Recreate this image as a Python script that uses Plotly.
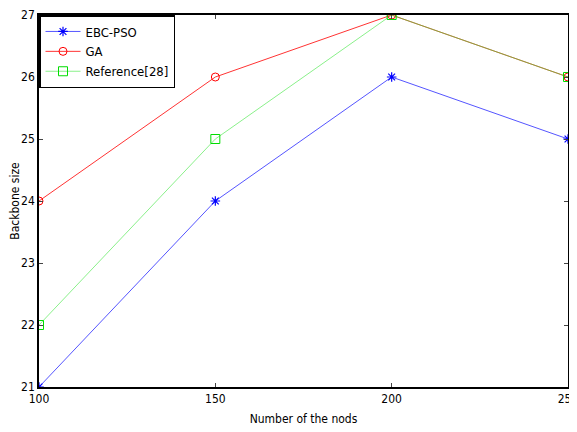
import plotly.graph_objects as go

nodes = [100, 150, 200, 250]
ebc_pso = [21, 24, 26, 25]
ga = [24, 26, 27, 26]
reference28 = [22, 25, 27, 26]
x_ticks = [100, 150, 200, 250]
y_ticks = [21, 22, 23, 24, 25, 26, 27]

FONT = "DejaVu Sans Condensed, Liberation Sans Narrow, Arial Narrow, Liberation Sans, Arial"

fig = go.Figure()
fig.add_trace(go.Scatter(x=nodes, y=ebc_pso, name="EBC-PSO", mode="lines+markers",
                         line=dict(color="#5555ff", width=1),
                         marker=dict(symbol="asterisk-open", size=8, color="#0000ff", line=dict(width=1.2, color="#0000ff"))))
fig.add_trace(go.Scatter(x=nodes, y=ga, name="GA", mode="lines+markers",
                         line=dict(color="#ff3333", width=1),
                         marker=dict(symbol="circle-open", size=8, color="#ff0000", line=dict(width=1))))
fig.add_trace(go.Scatter(x=nodes, y=reference28, name="Reference[28]", mode="lines+markers",
                         line=dict(color="rgba(60,230,60,0.6)", width=1),
                         marker=dict(symbol="square-open", size=9, color="#00dd00", line=dict(width=1))))

# page body has an 8px default margin, so the figure is sized to fit the 577x432 window
fig.update_layout(
    width=569, height=424,
    margin=dict(l=31, r=9, t=7, b=45, autoexpand=False),
    paper_bgcolor="white", plot_bgcolor="white",
    font=dict(family=FONT, size=12, color="black"),
    showlegend=True,
    legend=dict(x=0, y=1, xanchor="left", yanchor="top",
                bgcolor="white", bordercolor="black", borderwidth=1.5,
                font=dict(family=FONT, size=13), tracegroupgap=0, itemwidth=35),
)
fig.update_xaxes(range=[100, 250], tickvals=x_ticks, ticks="inside", ticklen=4,
                 showline=True, linecolor="black", linewidth=1.5, mirror="ticks",
                 showgrid=False, zeroline=False, automargin=False,
                 ticklabeloverflow="allow",
                 title=dict(text="Number of the nods", font=dict(size=12), standoff=9),
                 tickfont=dict(size=12))
fig.update_yaxes(range=[21, 27], tickvals=y_ticks, ticks="inside", ticklen=4,
                 showline=True, linecolor="black", linewidth=1.5, mirror="ticks",
                 showgrid=False, zeroline=False, automargin=False,
                 ticklabeloverflow="allow",
                 title=dict(text="Backbone size", font=dict(size=12), standoff=2),
                 tickfont=dict(size=12))

fig.write_html("out.html")
